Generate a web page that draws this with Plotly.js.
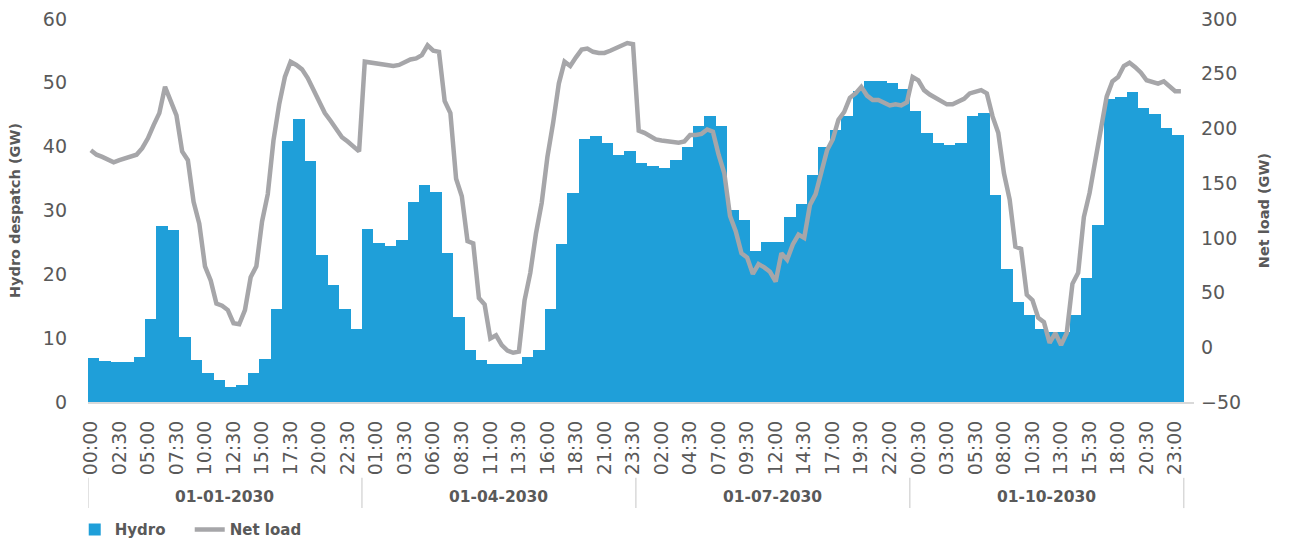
<!DOCTYPE html>
<html>
<head>
<meta charset="utf-8">
<script src="https://cdn.plot.ly/plotly-3.0.1.min.js"></script>
<style>
  html, body { margin: 0; padding: 0; background: #ffffff; }
  #chart { width: 1290px; height: 545px; }
</style>
</head>
<body>
<div id="chart"></div>
<script>
// ---- Data ----
const days = ['01-01-2030', '01-04-2030', '01-07-2030', '01-10-2030'];

// Hydro despatch (GW), hourly, one array per day
const hydroDay1 = [6.9, 6.4, 6.2, 6.3, 7.1, 13.0, 27.5, 27.0, 10.2, 6.6, 4.5, 3.4, 2.4, 2.7, 4.5, 6.7, 14.5, 40.9, 44.4, 37.7, 23.0, 18.3, 14.6, 11.4];
const hydroDay2 = [27.1, 24.9, 24.5, 25.4, 31.4, 34.0, 32.9, 23.3, 13.3, 8.1, 6.6, 5.9, 5.9, 5.9, 7.0, 8.1, 14.6, 24.8, 32.8, 41.2, 41.6, 40.6, 38.7, 39.4];
const hydroDay3 = [37.4, 37.0, 36.6, 37.9, 40.0, 43.3, 44.8, 43.3, 30.1, 28.5, 23.6, 25.0, 25.0, 29.0, 31.0, 35.6, 40.0, 42.6, 44.8, 48.7, 50.3, 50.3, 50.0, 49.1];
const hydroDay4 = [45.6, 42.2, 40.5, 40.3, 40.6, 44.8, 45.3, 32.4, 20.8, 15.7, 13.6, 11.5, 11.0, 11.0, 13.6, 19.5, 27.7, 47.4, 47.8, 48.6, 46.0, 45.1, 42.9, 41.8];

// Net load (GW), half-hourly, one array per day
const netLoadDay1 = [180, 176, 174, 171, 169, 171, 173, 174, 176, 182, 191, 203, 214, 238, 224, 212, 179, 171, 133, 113, 74, 61, 40, 38, 34, 22, 21, 34, 64, 74, 115, 140, 189, 222, 247, 261, 258, 254, 246, 235, 223, 214, 207, 199, 192, 188, 183, 179];
const netLoadDay2 = [261, 260, 259, 259, 257, 257, 258, 261, 263, 264, 267, 276, 271, 270, 225, 214, 154, 138, 97, 95, 45, 39, 8, 11, 2, -3, -5, -4, 43, 68, 104, 132, 174, 205, 241, 261, 257, 265, 272, 273, 270, 269, 269, 271, 273, 276, 278, 277];
const netLoadDay3 = [198, 196, 193, 190, 189, 188, 188, 187, 188, 194, 194, 195, 199, 197, 176, 159, 120, 106, 86, 82, 67, 76, 73, 69, 60, 86, 80, 94, 103, 100, 130, 140, 160, 180, 190, 208, 215, 228, 232, 238, 230, 226, 226, 224, 221, 222, 221, 224];
const netLoadDay4 = [247, 244, 235, 231, 228, 224, 222, 222, 224, 227, 232, 234, 235, 232, 211, 196, 159, 135, 92, 90, 48, 43, 27, 23, 4, 13, 2, 13, 58, 68, 119, 141, 171, 202, 229, 243, 247, 257, 260, 256, 251, 244, 243, 241, 243, 238, 234, 234];

// Time tick labels shown on the axis (every 5th half-hour slot)
const timeLabels = [
  '00:00', '02:30', '05:00', '07:30', '10:00', '12:30', '15:00', '17:30', '20:00', '22:30',
  '01:00', '03:30', '06:00', '08:30', '11:00', '13:30', '16:00', '18:30', '21:00', '23:30',
  '02:00', '04:30', '07:00', '09:30', '12:00', '14:30', '17:00', '19:30', '22:00',
  '00:30', '03:00', '05:30', '08:00', '10:30', '13:00', '15:30', '18:00', '20:30', '23:00'
];

// ---- Build traces ----
const hydro = [].concat(hydroDay1, hydroDay2, hydroDay3, hydroDay4);
const netLoad = [].concat(netLoadDay1, netLoadDay2, netLoadDay3, netLoadDay4);
const slotsPerDay = netLoadDay1.length;           // 48 half-hours
const slotsPerHour = netLoad.length / hydro.length; // 2

const hydroX = hydro.map((_, h) => h * slotsPerHour + slotsPerHour / 2);
const netX = netLoad.map((_, i) => i + 0.5);
const tickVals = timeLabels.map((_, k) => k * 5 + 0.5);

const TXT = '#595959';
const FONT = 'DejaVu Sans';

const traces = [
  {
    type: 'bar', name: 'Hydro', x: hydroX, y: hydro, width: slotsPerHour,
    marker: { color: '#1F9FD9', line: { width: 0 } },
    yaxis: 'y', hoverinfo: 'skip'
  },
  {
    type: 'scatter', mode: 'lines', name: 'Net load', x: netX, y: netLoad,
    line: { color: '#A6A6A9', width: 4.5 },
    yaxis: 'y2', hoverinfo: 'skip'
  }
];

// Day labels and day dividers below the time labels
const annotations = days.map((d, k) => ({
  text: d, xref: 'x', yref: 'paper', x: k * slotsPerDay + slotsPerDay / 2, y: -0.248,
  xanchor: 'center', yanchor: 'middle', showarrow: false,
  font: { family: FONT, size: 15.5, color: TXT, weight: 'bold' }
}));
const shapes = [0, 1, 2, 3, 4].map(k => ({
  type: 'line', xref: 'x', yref: 'paper', x0: k * slotsPerDay, x1: k * slotsPerDay,
  y0: -0.198, y1: -0.277, line: { color: '#D9D9D9', width: 1.5 }
}));

const layout = {
  width: 1290, height: 545,
  margin: { l: 88, r: 96, t: 19, b: 143, pad: 0, autoexpand: false },
  paper_bgcolor: '#ffffff', plot_bgcolor: '#ffffff',
  font: { family: FONT, color: TXT },
  bargap: 0,
  showlegend: true,
  legend: {
    orientation: 'h', xref: 'paper', x: -0.012, xanchor: 'left',
    yref: 'container', y: 0.028, yanchor: 'middle',
    font: { family: FONT, size: 15, color: TXT, weight: 'bold' },
    traceorder: 'normal', itemwidth: 30,
    entrywidth: 70, entrywidthmode: 'pixels'
  },
  xaxis: {
    range: [0, 193.8], showgrid: false, zeroline: false,
    showline: true, linecolor: '#D9D9D9', linewidth: 2,
    tickmode: 'array', tickvals: tickVals, ticktext: timeLabels,
    tickangle: -90, ticks: '', ticklabelstandoff: 9,
    tickfont: { family: FONT, size: 19, color: TXT }
  },
  yaxis: {
    range: [0, 60], dtick: 10, showgrid: false, zeroline: false, showline: false,
    ticks: '', ticklabelstandoff: 20,
    tickfont: { family: FONT, size: 19, color: TXT },
    automargin: false,
    title: { text: 'Hydro despatch (GW)', standoff: 18,
             font: { family: FONT, size: 14.5, color: TXT, weight: 'bold' } }
  },
  yaxis2: {
    range: [-50, 300], dtick: 50, overlaying: 'y', side: 'right',
    showgrid: false, zeroline: false, showline: false,
    ticks: '', ticklabelstandoff: 6,
    tickfont: { family: FONT, size: 19, color: TXT },
    automargin: false,
    title: { text: 'Net load (GW)', standoff: 18,
             font: { family: FONT, size: 14.5, color: TXT, weight: 'bold' } }
  },
  annotations: annotations,
  shapes: shapes
};

Plotly.newPlot('chart', traces, layout, { displayModeBar: false, staticPlot: true });
</script>
</body>
</html>
